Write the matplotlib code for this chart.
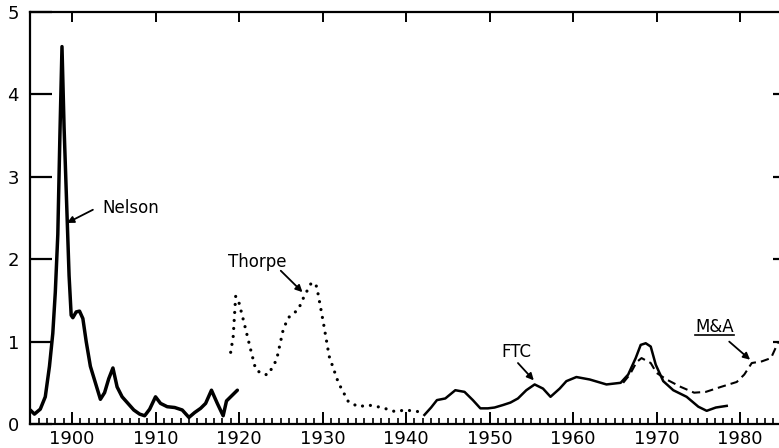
import matplotlib
matplotlib.use("Agg")
import matplotlib.pyplot as plt
from matplotlib.lines import Line2D

# ---- data ----
nelson_years = [1895.0, 1895.5, 1896.2, 1896.8, 1897.3, 1897.7, 1898.0, 1898.3, 1898.55, 1898.8,
                1899.05, 1899.35, 1899.65, 1899.9, 1900.1, 1900.5, 1900.9, 1901.3, 1901.7, 1902.2,
                1902.8, 1903.4, 1903.9, 1904.4, 1904.9, 1905.4, 1906.0, 1906.7, 1907.4, 1908.1,
                1908.7, 1909.3, 1910.0, 1910.6, 1911.4, 1912.3, 1913.2, 1914.0, 1914.7, 1915.4,
                1916.0, 1916.7, 1917.4, 1918.1, 1918.5, 1919.0, 1919.8]
nelson_vals = [0.17, 0.12, 0.18, 0.33, 0.7, 1.1, 1.6, 2.3, 3.5, 4.58,
               3.6, 2.7, 1.8, 1.32, 1.29, 1.36, 1.37, 1.28, 1.0, 0.7,
               0.5, 0.3, 0.38, 0.55, 0.68, 0.45, 0.33, 0.25, 0.17, 0.12,
               0.1, 0.18, 0.33, 0.25, 0.21, 0.2, 0.17, 0.08, 0.14, 0.19,
               0.25, 0.41, 0.25, 0.1, 0.28, 0.33, 0.41]

thorpe_years = [1919.0, 1919.3, 1919.6, 1920.0, 1920.6, 1921.4, 1922.0, 1922.9, 1923.5, 1924.5,
                1925.3, 1925.9, 1927.1, 1927.8, 1928.7, 1929.3, 1930.1, 1930.8, 1931.9, 1933.1,
                1934.3, 1935.5, 1937.1, 1938.7, 1939.9, 1941.5]
thorpe_vals = [0.87, 1.06, 1.55, 1.47, 1.23, 0.9, 0.66, 0.6, 0.6, 0.78,
               1.15, 1.29, 1.39, 1.55, 1.72, 1.67, 1.23, 0.82, 0.5, 0.27,
               0.21, 0.23, 0.2, 0.15, 0.17, 0.15]

ftc_years = [1942.2, 1943.0, 1943.7, 1944.7, 1945.9, 1947.0, 1948.0, 1948.9, 1949.8, 1950.6,
             1951.6, 1952.5, 1953.4, 1954.4, 1955.4, 1956.4, 1957.3, 1958.4, 1959.2, 1960.4,
             1962.0, 1964.0, 1965.7, 1966.6, 1967.5, 1968.1, 1968.7, 1969.3, 1969.9, 1970.8,
             1972.0, 1973.6, 1975.0, 1976.0, 1977.1, 1978.4]
ftc_vals = [0.11, 0.2, 0.29, 0.31, 0.41, 0.39, 0.29, 0.19, 0.19, 0.2,
            0.23, 0.26, 0.31, 0.41, 0.48, 0.43, 0.33, 0.43, 0.52, 0.57,
            0.54, 0.48, 0.5, 0.6, 0.8, 0.96, 0.98, 0.94, 0.72, 0.52,
            0.41, 0.33, 0.21, 0.16, 0.2, 0.22]

mna_years = [1966.0, 1966.8, 1967.6, 1968.2, 1969.3, 1970.0, 1971.2, 1972.9, 1974.5, 1975.9,
             1977.7, 1979.6, 1980.5, 1981.4, 1982.6, 1983.7, 1984.6]
mna_vals = [0.5, 0.6, 0.75, 0.8, 0.74, 0.62, 0.54, 0.45, 0.38, 0.39,
            0.45, 0.51, 0.6, 0.74, 0.76, 0.8, 1.0]

decade_ticks = [1900, 1910, 1920, 1930, 1940, 1950, 1960, 1970, 1980]
decade_labels = ["1900", "1910", "1920", "1930", "1940", "1950", "1960", "1970", "1980"]
y_ticks = [0, 1, 2, 3, 4, 5]

# ---- figure ----
W, H = 779, 448
fig = plt.figure(figsize=(W / 100, H / 100), dpi=100)
ax = fig.add_axes([30 / W, 24 / H, (781 - 30) / W, (424 - 12) / H])
ax.set_xlim(1894.97, 1984.9)
ax.set_ylim(0, 5)

ax.plot(nelson_years, nelson_vals, color="black", lw=2.5, solid_joinstyle="round",
        solid_capstyle="round")
ax.plot(thorpe_years, thorpe_vals, color="black", lw=2.3, linestyle=(0, (0.01, 2.5)),
        dash_capstyle="round")
ax.plot(ftc_years, ftc_vals, color="black", lw=1.8, solid_joinstyle="round")
ax.plot(mna_years, mna_vals, color="black", lw=1.5, linestyle=(0, (4.0, 2.4)))

# spines
for s in ["left", "top", "bottom"]:
    ax.spines[s].set_linewidth(1.6)
ax.spines["right"].set_visible(False)

# ticks
ax.set_xticks(decade_ticks)
ax.set_xticklabels(decade_labels)
ax.set_xticks(list(range(1895, 1985)), minor=True)
ax.set_yticks(y_ticks)
ax.set_yticklabels([str(v) for v in y_ticks])
ax.tick_params(axis="x", which="major", direction="in", length=9, width=1.4,
               top=False, labelsize=13, pad=4)
ax.tick_params(axis="x", which="minor", direction="in", length=4.5, width=1.2, top=False)
ax.tick_params(axis="y", which="major", direction="in", length=16, width=1.6,
               right=False, labelsize=13, pad=8)

# short inward ticks on the right side
sec = ax.secondary_yaxis("right")
sec.set_yticks([1, 2, 3, 4])
sec.tick_params(direction="in", length=6, width=1.6, labelright=False)
sec.spines["right"].set_visible(False)

# short inward ticks on the top side
sect = ax.secondary_xaxis("top")
sect.set_xticks(decade_ticks)
sect.tick_params(direction="in", length=7, width=1.4, labeltop=False)
sect.spines["top"].set_visible(False)

# annotations
arrow = dict(arrowstyle="-|>", color="black", lw=1.3, mutation_scale=10,
             shrinkA=0, shrinkB=0)
ax.text(1903.6, 2.62, "Nelson", fontsize=12, ha="left", va="center")
ax.annotate("", xy=(1899.4, 2.44), xytext=(1902.5, 2.6), arrowprops=arrow)

ax.text(1922.2, 1.97, "Thorpe", fontsize=12, ha="center", va="center")
ax.annotate("", xy=(1927.6, 1.6), xytext=(1925.0, 1.86), arrowprops=arrow)

ax.text(1953.2, 0.87, "FTC", fontsize=12, ha="center", va="center")
ax.annotate("", xy=(1955.3, 0.53), xytext=(1953.4, 0.74), arrowprops=arrow)

mna = ax.text(1976.9, 1.18, "M&A", fontsize=12, ha="center", va="center")
ax.annotate("", xy=(1981.2, 0.78), xytext=(1978.7, 1.0), arrowprops=arrow)

fig.canvas.draw()
bb = mna.get_window_extent()
y0 = bb.y0 + 1
fig.add_artist(Line2D([bb.x0 / W, bb.x1 / W], [y0 / H, y0 / H], color="black", lw=1.2,
                      transform=fig.transFigure))

fig.savefig("out.png", dpi=100)
